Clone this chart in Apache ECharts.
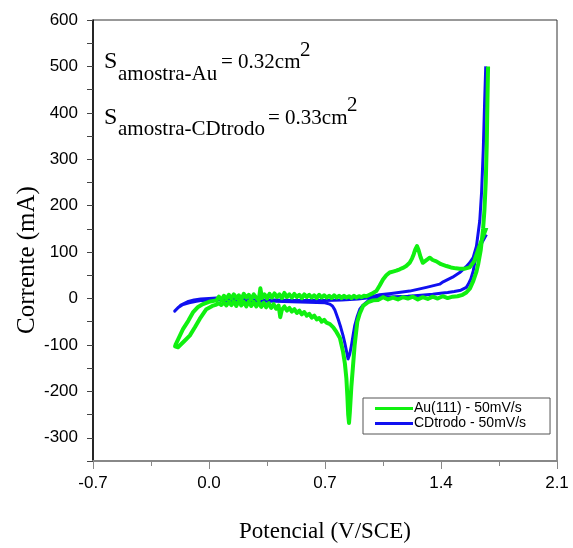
<!DOCTYPE html>
<html>
<head>
<meta charset="utf-8">
<script src="https://cdn.jsdelivr.net/npm/echarts@6/dist/echarts.min.js"></script>
<style>
  html, body { margin: 0; padding: 0; background: #fff; }
  #chart { width: 573px; height: 548px; }
</style>
</head>
<body>
<div id="chart"></div>
<script>
// Voltametria ciclica: Au(111) x CDtrodo, 50 mV/s

const SERIES_NAMES = ['Au(111) - 50mV/s', 'CDtrodo - 50mV/s'];
const X_TICKS = [-0.7, 0.0, 0.7, 1.4, 2.1];
const Y_TICKS = [-300, -200, -100, 0, 100, 200, 300, 400, 500, 600];

// Au(111): varredura catodica (do topo do pico de O2 ate -0.2 V)
const greenCathodic = [
  [1.684, 500], [1.680, 420], [1.676, 330], [1.670, 250], [1.662, 190], [1.654, 150],
  [1.640, 105], [1.625, 75], [1.614, 58], [1.595, 38], [1.575, 22], [1.553, 13],
  [1.53, 8], [1.50, 5], [1.47, 4], [1.44, 1], [1.41, 5], [1.38, 0], [1.35, 4],
  [1.32, -1], [1.29, 3], [1.26, -2], [1.23, 4], [1.20, 0], [1.17, 3], [1.14, -2],
  [1.11, 2], [1.08, -2], [1.05, 3], [1.02, -3], [0.99, -4], [0.96, -8], [0.93, -16],
  [0.91, -32], [0.895, -50], [0.879, -100], [0.868, -150], [0.859, -190], [0.850, -245],
  [0.845, -268], [0.840, -250], [0.835, -210], [0.829, -172], [0.82, -140], [0.809, -115],
  [0.79, -85], [0.769, -72], [0.75, -62], [0.73, -55], [0.709, -52], [0.695, -46],
  [0.68, -50], [0.665, -42], [0.65, -45], [0.635, -37], [0.62, -41], [0.605, -33],
  [0.59, -37], [0.575, -29], [0.56, -34], [0.545, -26], [0.53, -31], [0.515, -23],
  [0.50, -28], [0.485, -20], [0.47, -26], [0.455, -17], [0.44, -24], [0.43, -40],
  [0.42, -15], [0.405, -22], [0.39, -12], [0.375, -20], [0.36, -10], [0.345, -19],
  [0.33, -9], [0.315, -18], [0.30, -8], [0.285, -17], [0.27, -7], [0.255, -16],
  [0.24, -6], [0.225, -17], [0.21, -7], [0.195, -15], [0.18, -5], [0.165, -16],
  [0.15, -6], [0.135, -14], [0.12, -7], [0.105, -15], [0.09, -8], [0.075, -14],
  [0.06, -10], [0.045, -13], [0.02, -16], [-0.016, -23], [-0.056, -44], [-0.085, -62],
  [-0.116, -80], [-0.15, -92], [-0.187, -105], [-0.205, -103]
];

// Au(111): varredura anodica (de -0.2 V ate o fim em 1.67 V)
const greenAnodic = [
  [-0.2, -98], [-0.157, -66], [-0.125, -48], [-0.097, -30], [-0.066, -18], [-0.036, -12],
  [0.0, -7], [0.045, -4], [0.06, 4], [0.075, -3], [0.09, 6], [0.105, -1], [0.12, 8],
  [0.135, 0], [0.15, 9], [0.165, 1], [0.18, 7], [0.195, -2], [0.21, 10], [0.225, 2],
  [0.24, 8], [0.255, -1], [0.27, 9], [0.285, 2], [0.30, -4], [0.31, 22], [0.32, 1],
  [0.335, 9], [0.35, 0], [0.365, 10], [0.38, 2], [0.395, 11], [0.41, 3], [0.425, 9],
  [0.44, 1], [0.455, 12], [0.47, 3], [0.485, 9], [0.50, 2], [0.515, 10], [0.53, 3],
  [0.545, 8], [0.56, 1], [0.575, 9], [0.59, 3], [0.605, 8], [0.62, 2], [0.635, 7],
  [0.65, 1], [0.665, 8], [0.68, 2], [0.695, 7], [0.71, 2], [0.725, 6], [0.74, 1],
  [0.755, 7], [0.77, 2], [0.785, 6], [0.80, 1], [0.815, 6], [0.83, 2], [0.845, 5],
  [0.86, 1], [0.875, 6], [0.89, 2], [0.905, 5], [0.92, 3], [0.935, 6], [0.95, 5],
  [0.98, 10], [1.01, 16], [1.03, 28], [1.05, 41], [1.07, 50], [1.09, 56], [1.11, 58],
  [1.13, 60], [1.151, 63], [1.17, 66], [1.19, 70], [1.211, 77], [1.225, 86], [1.235, 95],
  [1.245, 106], [1.255, 113], [1.265, 104], [1.276, 90], [1.29, 77], [1.302, 76],
  [1.316, 84], [1.332, 88], [1.35, 83], [1.372, 80], [1.40, 74], [1.433, 70],
  [1.46, 67], [1.49, 65], [1.513, 64], [1.54, 64], [1.573, 67], [1.60, 80],
  [1.624, 105], [1.65, 130], [1.674, 153]
];

// CDtrodo: varredura catodica
const blueCathodic = [
  [1.674, 138], [1.65, 122], [1.63, 108], [1.614, 95], [1.60, 70], [1.594, 59],
  [1.58, 42], [1.565, 31], [1.553, 24], [1.52, 18], [1.48, 15], [1.44, 13], [1.41, 12],
  [1.35, 9], [1.28, 7], [1.20, 5], [1.12, 4], [1.05, 3], [0.99, 0], [0.96, -5],
  [0.93, -14], [0.91, -23], [0.895, -38], [0.879, -59], [0.869, -80], [0.859, -102],
  [0.849, -120], [0.839, -130], [0.829, -112], [0.819, -95], [0.809, -80], [0.795, -62],
  [0.779, -44], [0.76, -25], [0.745, -16], [0.728, -12], [0.70, -9], [0.6, -8],
  [0.5, -7], [0.4, -6], [0.3, -6], [0.2, -5], [0.1, -4], [0.045, -2], [0.0, -3],
  [-0.04, -4], [-0.076, -6], [-0.12, -9], [-0.157, -13], [-0.185, -19], [-0.207, -27]
];

// CDtrodo: varredura anodica
const blueAnodic = [
  [-0.2, -24], [-0.17, -14], [-0.13, -7], [-0.09, -3], [-0.05, -1], [0.0, 0],
  [0.045, 1], [0.1, -1], [0.2, -2], [0.3, -3], [0.4, -3], [0.5, -4], [0.6, -4],
  [0.7, -4], [0.8, -3], [0.9, -1], [0.95, 1], [0.97, 3], [1.03, 8], [1.1, 11],
  [1.211, 16], [1.312, 24], [1.392, 31], [1.413, 36], [1.47, 46], [1.513, 56],
  [1.55, 68], [1.573, 77], [1.594, 88], [1.614, 113], [1.634, 168], [1.645, 230],
  [1.655, 320], [1.663, 420], [1.670, 500]
];

const SERIF = '"Liberation Serif", "DejaVu Serif", serif';
const SANS = '"Liberation Sans", Arial, sans-serif';

const chart = echarts.init(document.getElementById('chart'), null, { renderer: 'canvas' });

function isMajor(v, ticks) {
  return ticks.some(t => Math.abs(t - v) < 1e-6);
}

// texto com sub/sobrescrito: y dado pela linha de base
function txt(text, x, baseline, size) {
  return {
    type: 'text',
    x: x,
    y: baseline - size * 0.34,
    style: {
      text: text,
      fill: '#000',
      font: size + 'px ' + SERIF,
      verticalAlign: 'middle'
    }
  };
}

const option = {
  animation: false,
  backgroundColor: '#fff',
  grid: {
    left: 93, right: 16, top: 20, bottom: 85,
    show: true, borderColor: '#333', borderWidth: 1
  },
  legend: {
    data: SERIES_NAMES,
    orient: 'vertical',
    left: 363, top: 398,
    itemWidth: 38, itemHeight: 3, itemGap: 0,
    icon: 'rect',
    padding: [3, 24, 3, 12],
    borderColor: '#555', borderWidth: 1,
    textStyle: { fontFamily: SANS, fontSize: 14, lineHeight: 15, color: '#000', padding: [0, 0, 0, -4] }
  },
  xAxis: {
    type: 'value',
    min: -0.7, max: 2.1, interval: 0.7,
    name: 'Potencial (V/SCE)',
    nameLocation: 'middle', nameGap: 59,
    nameTextStyle: { fontFamily: SERIF, fontSize: 23, color: '#000' },
    axisLine: { onZero: false, lineStyle: { color: '#888', width: 2 } },
    axisTick: { length: 8, lineStyle: { color: '#888' } },
    minorTick: { show: true, splitNumber: 2, length: 5, lineStyle: { color: '#888' } },
    splitLine: { show: false },
    axisLabel: {
      margin: 14, fontFamily: SANS, fontSize: 17, color: '#000',
      formatter: v => isMajor(v, X_TICKS) ? (Math.abs(v) < 1e-9 ? '0.0' : v.toFixed(1)) : ''
    }
  },
  yAxis: {
    type: 'value',
    min: -350, max: 600, interval: 50,
    axisLine: { onZero: false, lineStyle: { color: '#000', width: 1.5 } },
    axisTick: { length: 6, lineStyle: { color: '#444' } },
    splitLine: { show: false },
    axisLabel: {
      margin: 15, fontFamily: SANS, fontSize: 17, color: '#000',
      formatter: v => isMajor(v, Y_TICKS) ? String(v) : ''
    }
  },
  graphic: [
    {
      type: 'text', x: 27, y: 260, rotation: Math.PI / 2,
      style: {
        text: 'Corrente (mA)', fill: '#000', font: '25px ' + SERIF,
        align: 'center', verticalAlign: 'middle'
      }
    },
    txt('S', 104, 70, 24),
    txt('amostra-Au', 118, 81.7, 21),
    txt('= 0.32cm', 221, 70, 21),
    txt('2', 300, 57.5, 21),
    txt('S', 104, 126, 24),
    txt('amostra-CDtrodo', 118, 136.7, 21),
    txt('= 0.33cm', 268, 126, 21),
    txt('2', 347, 112.5, 21)
  ],
  series: [
    {
      name: SERIES_NAMES[1],
      type: 'line',
      data: blueCathodic.concat(blueAnodic),
      showSymbol: false, symbol: 'none',
      lineStyle: { color: '#1010f0', width: 3, join: 'round' },
      itemStyle: { color: '#1010f0' },
      z: 2
    },
    {
      name: SERIES_NAMES[0],
      type: 'line',
      data: greenCathodic.concat(greenAnodic),
      showSymbol: false, symbol: 'none',
      lineStyle: { color: '#10f010', width: 4, join: 'round' },
      itemStyle: { color: '#10f010' },
      z: 3
    }
  ]
};

chart.setOption(option);
</script>
</body>
</html>
